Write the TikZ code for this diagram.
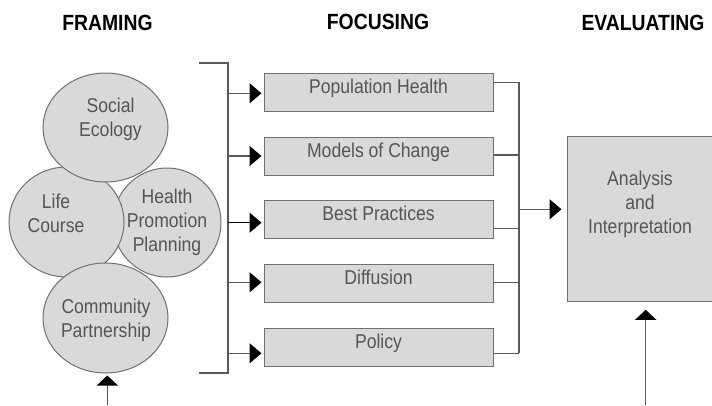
\documentclass[tikz,border=0pt]{standalone}
\usepackage{fontspec}
\setmainfont{Liberation Sans}[FakeStretch=0.88]
\usetikzlibrary{arrows.meta,shapes.geometric,calc}
\definecolor{fillg}{HTML}{D9D9D9}
\definecolor{edgeg}{HTML}{707070}
\definecolor{txtg}{HTML}{555555}
\definecolor{lineg}{HTML}{5A5A5A}
\tikzset{
  circ/.style={ellipse,draw=edgeg,fill=fillg,line width=1pt,inner sep=0pt},
  ctext/.style={text=txtg,font=\fontsize{20}{24}\selectfont,align=center,inner sep=0pt},
  fbox/.style={rectangle,draw=edgeg,fill=fillg,line width=1pt,minimum width=229pt,
    inner xsep=0pt,inner ysep=0pt,text height=20pt,text depth=18pt,
    text=txtg,font=\fontsize{20}{24}\selectfont},
  bigbox/.style={rectangle,draw=edgeg,fill=fillg,line width=1pt,inner sep=0pt},
  title/.style={font=\bfseries\fontsize{22}{26}\selectfont,inner sep=0pt,anchor=base},
  ln/.style={draw=lineg,line width=1.2pt},
  arr/.style={ln,-{Triangle[length=12pt,width=20pt,color=black]}},
  arrv/.style={ln,-{Triangle[length=10pt,width=21pt,color=black]}},
}
\begin{document}
\begin{tikzpicture}[x=1pt,y=-1pt]
\useasboundingbox (0,0) rectangle (712,405);
% titles
\node[title] (t1) at (107.5,30.5) {FRAMING};
\node[title] (t2) at (378,29) {FOCUSING};
\node[title] (t3) at (643,30.5) {EVALUATING};
% ellipses
\node[circ,minimum width=108pt,minimum height=109pt] (hp) at (167,222.5) {};
\node[circ,minimum width=115pt,minimum height=110pt] (lc) at (66.5,222) {};
\node[circ,minimum width=125pt,minimum height=109pt] (se) at (105.5,127.5) {};
\node[circ,minimum width=125pt,minimum height=110pt] (cp) at (105.5,318) {};
\node[ctext] (set) at (110.5,119.8) {Social\\Ecology};
\node[ctext] (hpt) at (167,221.9) {Health\\Promotion\\Planning};
\node[ctext] (lct) at (56,213.8) {Life\\Course};
\node[ctext] (cpt) at (106,320) {Community\\Partnership};
% focusing boxes
\node[fbox] (b1) at (378.5,92) {Population Health};
\node[fbox] (b2) at (378.5,156) {Models of Change};
\node[fbox] (b3) at (378.5,219.5) {Best Practices};
\node[fbox] (b4) at (378.5,283.3) {Diffusion};
\node[fbox] (b5) at (378.5,347.2) {Policy};
% evaluating box
\node[bigbox,minimum width=148pt,minimum height=165.7pt] (ana) at (641,218.85) {};
\node[ctext] (anat) at (640,204) {Analysis\\and\\Interpretation};
% bracket
\coordinate (bt0) at (199,63);
\coordinate (bt1) at (228,63);
\coordinate (bb1) at (228,373);
\coordinate (bb0) at (199,373);
\draw[ln] (bt0) -- (bt1) -- (bb1) -- (bb0);
\coordinate (l1) at (228,93.3);
\coordinate (l2) at (228,156);
\coordinate (l3) at (228,222.7);
\coordinate (l4) at (228,282.3);
\coordinate (l5) at (228,353.3);
\draw[arr,shorten >=2pt] (l1) -- (l1 -| b1.west);
\draw[arr,shorten >=2pt] (l2) -- (l2 -| b2.west);
\draw[arr,shorten >=2pt,draw=black] (l3) -- (l3 -| b3.west);
\draw[arr,shorten >=2pt] (l4) -- (l4 -| b4.west);
\draw[arr,shorten >=2pt] (l5) -- (l5 -| b5.west);
% collector
\coordinate (r1) at (519,82.3);
\coordinate (r2) at (519,155);
\coordinate (r3) at (519,228.3);
\coordinate (r4) at (519,282.3);
\coordinate (r5) at (519,353.3);
\coordinate (rm) at (519,209.3);
\draw[ln] (r1 -| b1.east) -- (r1);
\draw[ln] (r2 -| b2.east) -- (r2);
\draw[ln] (r3 -| b3.east) -- (r3);
\draw[ln] (r4 -| b4.east) -- (r4);
\draw[ln] (r5 -| b5.east) -- (r5);
\draw[ln] (r1) -- (r5);
\draw[arr,shorten >=5pt] (rm) -- (rm -| ana.west);
% bottom arrows
\coordinate (f0) at (107.3,405);
\draw[arrv,shorten >=2pt] (f0) -- (f0 |- cp.south);
\coordinate (e0) at (645.7,405);
\draw[arrv,shorten >=7.6pt] (e0) -- (e0 |- ana.south);
\end{tikzpicture}
\end{document}
